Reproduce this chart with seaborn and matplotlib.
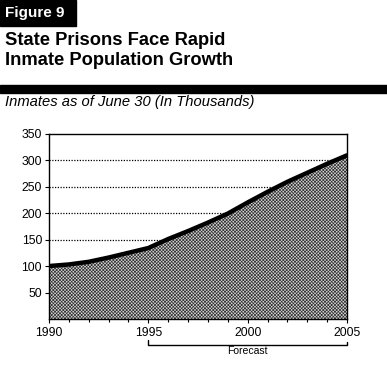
import pandas as pd
import seaborn as sns
import matplotlib.pyplot as plt
import matplotlib.transforms as mtransforms
from matplotlib.patches import Rectangle

# Data (inmates as of June 30, thousands)
years = [1990, 1991, 1992, 1993, 1994, 1995, 1996, 1997,
         1998, 1999, 2000, 2001, 2002, 2003, 2004, 2005]
inmates = [100, 103, 108, 116, 125, 134, 151, 166,
           182, 199, 220, 240, 259, 276, 293, 309]
y_ticks = [50, 100, 150, 200, 250, 300, 350]
x_ticks = [1990, 1995, 2000, 2005]
forecast_span = [1995, 2005]

df = pd.DataFrame({"year": years, "inmates": inmates})

sns.set_theme(style="white")
plt.rcParams['font.family'] = ['Liberation Sans', 'DejaVu Sans']
plt.rcParams['hatch.linewidth'] = 0.5
plt.rcParams['text.color'] = 'black'
plt.rcParams['xtick.color'] = 'black'
plt.rcParams['ytick.color'] = 'black'

fig = plt.figure(figsize=(3.87, 3.70), dpi=100)
ax = fig.add_axes([0.1266, 0.1378, 0.77, 0.5012])

# grid first so the area hides it
for v in y_ticks[:-1]:
    ax.axhline(v, color='black', lw=0.9, ls=(0, (1, 1.2)), zorder=1)

ax.fill_between(df["year"], df["inmates"], 0, facecolor='#d4d4d4',
                edgecolor='#333333', hatch='xxxxxxxxxx', lw=0, zorder=2)
sns.lineplot(data=df, x="year", y="inmates", ax=ax, color='black',
             lw=3.2, zorder=3)

ax.set_xlim(1990, 2005)
ax.set_ylim(0, 350)
ax.set_yticks(y_ticks)
ax.set_xticks(x_ticks)
ax.set_xticks(years, minor=True)
ax.set_xlabel("")
ax.set_ylabel("")
ax.tick_params(axis='both', which='major', labelsize=8.8, length=3, width=0.8,
               color='black', labelcolor='black', direction='out', pad=2)
ax.tick_params(axis='x', which='minor', length=2, width=0.8, color='black',
               direction='out', bottom=True)
ax.tick_params(axis='x', which='major', bottom=True, pad=3)
ax.tick_params(axis='y', which='major', left=True)
for s in ax.spines.values():
    s.set_color('black')
    s.set_linewidth(1)

# forecast bracket under the x axis
tr = mtransforms.blended_transform_factory(ax.transData, ax.transAxes)
ax.plot([forecast_span[0], forecast_span[0], forecast_span[1], forecast_span[1]],
        [-0.115, -0.138, -0.138, -0.125], color='black', lw=1,
        transform=tr, clip_on=False)
ax.text(sum(forecast_span) / 2, -0.145, "Forecast", transform=tr,
        ha='center', va='top', fontsize=7.5)

# header
fig.add_artist(Rectangle((0, 1 - 26 / 370), 76 / 387, 26 / 370,
                         transform=fig.transFigure, color='black'))
fig.text(5 / 387, 1 - 13 / 370, "Figure 9", color='white', fontsize=11,
         fontweight='bold', va='center', ha='left')
fig.text(5 / 387, 1 - 32 / 370, "State Prisons Face Rapid\nInmate Population Growth",
         fontsize=13.2, fontweight='bold', va='top', ha='left', linespacing=1.2)
fig.add_artist(Rectangle((0, 1 - 93 / 370), 1, 8 / 370,
                         transform=fig.transFigure, color='black'))
fig.text(5 / 387, 1 - 95 / 370, "Inmates as of June 30 (In Thousands)",
         fontsize=10.6, fontstyle='italic', va='top', ha='left')

fig.savefig('out.png', dpi=100)
